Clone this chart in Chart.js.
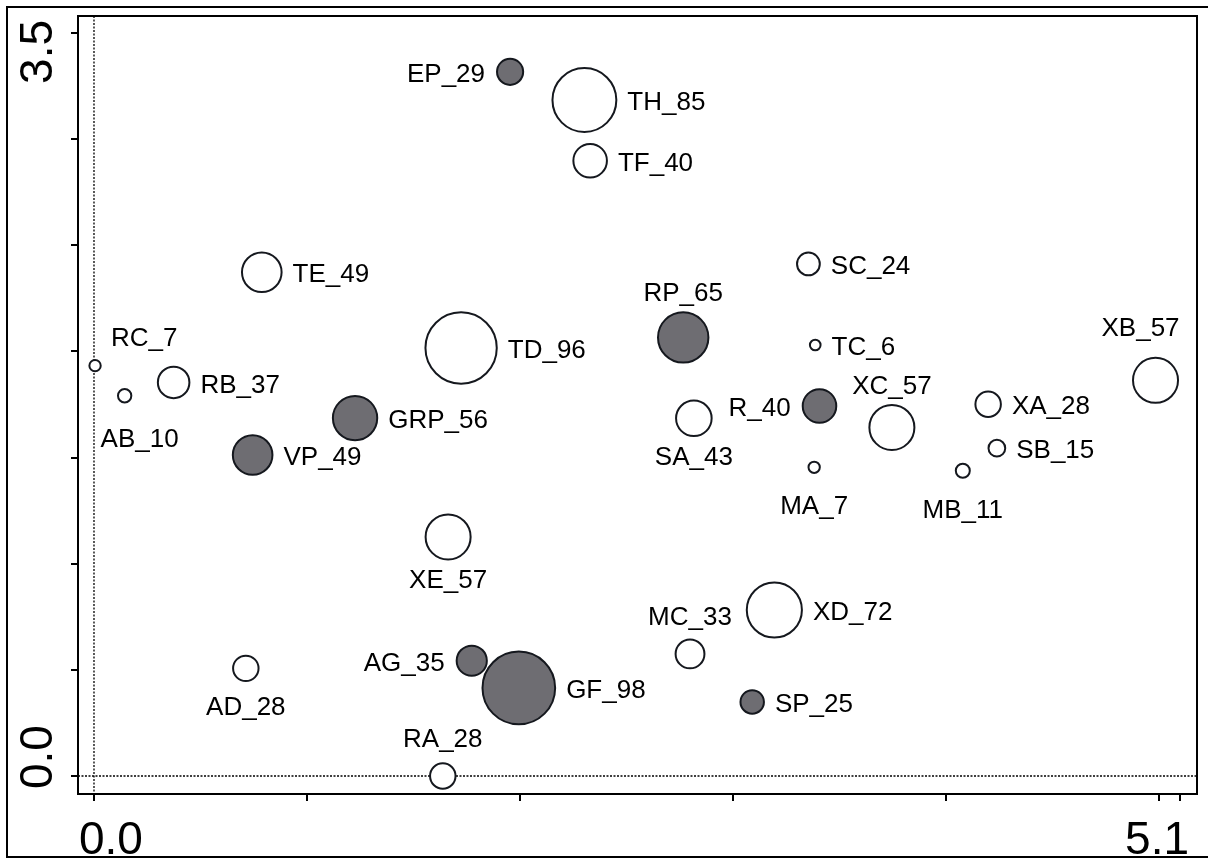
<!DOCTYPE html>
<html>
<head>
<meta charset="utf-8">
<script src="https://cdn.jsdelivr.net/npm/chart.js@4.4.1/dist/chart.umd.min.js"></script>
<style>
  body { margin: 0; background: #fff; }
  canvas { display: block; }
</style>
</head>
<body>
<canvas id="bubbleChart" width="1208" height="859"></canvas>
<script>
// Point data
const names = ['EP', 'TH', 'TF', 'TE', 'SC', 'RP', 'TD', 'TC', 'XB', 'RC', 'AB', 'RB', 'GRP', 'SA', 'R',
    'XC', 'XA', 'SB', 'VP', 'MA', 'MB', 'XE', 'XD', 'MC', 'AG', 'AD', 'GF', 'SP', 'RA'];
const counts = [29, 85, 40, 49, 24, 65, 96, 6, 57, 7, 10, 37, 56, 43, 40,
    57, 28, 15, 49, 7, 11, 57, 72, 33, 35, 28, 98, 25, 28];
const xVals = [1.954, 2.303, 2.330, 0.788, 3.355, 2.767, 1.724, 3.387, 4.985, 0.005, 0.144, 0.374, 1.226, 2.817, 3.407,
    3.747, 4.199, 4.240, 0.745, 3.382, 4.080, 1.663, 3.195, 2.799, 1.774, 0.713, 1.995, 3.091, 1.638];
const yVals = [3.317, 3.184, 2.898, 2.373, 2.412, 2.066, 2.016, 2.030, 1.864, 1.933, 1.791, 1.854, 1.686, 1.685, 1.743,
    1.642, 1.751, 1.544, 1.512, 1.454, 1.438, 1.126, 0.782, 0.575, 0.543, 0.507, 0.415, 0.349, 0.0];
// 1 = filled (grey) point, 0 = open point
const filled = [1, 0, 0, 0, 0, 1, 0, 0, 0, 0, 0, 0, 1, 0, 1,
    0, 0, 0, 1, 0, 0, 0, 0, 0, 1, 0, 1, 1, 0];
// where each label sits relative to its point
const labelSide = ['left', 'right', 'right', 'right', 'right', 'above', 'right', 'right', 'aboveLeft', 'aboveRight',
    'belowRight', 'right', 'right', 'below', 'left', 'above', 'right', 'right', 'right', 'below', 'below', 'below',
    'right', 'above', 'left', 'below', 'right', 'right', 'above'];

// Axes
const xTicks = [0, 1, 2, 3, 4, 5, 5.1];
const yTicks = [0, 0.5, 1, 1.5, 2, 2.5, 3, 3.5];
const xEndLabels = ['0.0', '5.1'];
const yEndLabels = ['0.0', '3.5'];

const FILL_GREY = '#6e6d72';
const INK = '#15181e';
const FONT = '"Liberation Sans", Arial, sans-serif';

const points = names.map((n, i) => ({ x: xVals[i], y: yVals[i], r: 3.3 + 0.337 * counts[i] }));

// zero lines (dotted)
const zeroLines = {
    id: 'zeroLines',
    beforeDatasetsDraw(chart) {
        const { ctx, chartArea, scales } = chart;
        const x0 = scales.x.getPixelForValue(0);
        const y0 = scales.y.getPixelForValue(0);
        ctx.save();
        ctx.strokeStyle = '#000';
        ctx.lineWidth = 1.3;
        ctx.setLineDash([2, 1.5]);
        ctx.beginPath();
        ctx.moveTo(x0, chartArea.top);
        ctx.lineTo(x0, chartArea.bottom);
        ctx.moveTo(chartArea.left, y0);
        ctx.lineTo(chartArea.right, y0);
        ctx.stroke();
        ctx.restore();
    }
};

// point labels, box and axis end labels
const decorations = {
    id: 'decorations',
    afterDatasetsDraw(chart) {
        const { ctx } = chart;
        const meta = chart.getDatasetMeta(0);
        ctx.save();
        ctx.fillStyle = '#000';
        ctx.font = '26px ' + FONT;
        meta.data.forEach((el, i) => {
            const r = el.options.radius + 1;
            const text = `${names[i]}_${counts[i]}`;
            const side = labelSide[i];
            let tx = el.x, ty = el.y;
            if (side === 'right') {
                ctx.textAlign = 'left'; ctx.textBaseline = 'middle';
                tx = el.x + r + 10; ty = el.y + 3;
            } else if (side === 'left') {
                ctx.textAlign = 'right'; ctx.textBaseline = 'middle';
                tx = el.x - r - 11; ty = el.y + 3;
            } else if (side === 'above' || side === 'aboveLeft') {
                ctx.textAlign = 'center'; ctx.textBaseline = 'alphabetic';
                ty = el.y - Math.max(r + 10, 29);
                if (side === 'aboveLeft') { tx = el.x - 15; ty = el.y - r - 21; }
            } else if (side === 'aboveRight') {
                ctx.textAlign = 'left'; ctx.textBaseline = 'alphabetic';
                tx = el.x + 16; ty = el.y - 20;
            } else {
                ctx.textAlign = 'center'; ctx.textBaseline = 'alphabetic';
                ty = el.y + Math.max(r + 9, 28) + 19;
                if (side === 'belowRight') { tx = el.x + 15; ty += 4; }
            }
            ctx.fillText(text, tx, ty);
        });
        ctx.restore();
    },
    afterDraw(chart) {
        const { ctx, chartArea } = chart;
        ctx.save();
        ctx.strokeStyle = '#000';
        ctx.lineWidth = 2;
        ctx.strokeRect(chartArea.left, chartArea.top, chartArea.right - chartArea.left, chartArea.bottom - chartArea.top);
        // figure frame (right edge falls just outside the canvas)
        ctx.strokeRect(7, 7, 1206, 850);

        ctx.fillStyle = '#000';
        ctx.font = '46px ' + FONT;
        ctx.textBaseline = 'alphabetic';
        ctx.textAlign = 'left';
        ctx.fillText(xEndLabels[0], chartArea.left + 1, 854);
        ctx.textAlign = 'right';
        ctx.fillText(xEndLabels[1], chartArea.right - 8, 854);

        ctx.translate(52, 0);
        ctx.rotate(-Math.PI / 2);
        ctx.textAlign = 'right';
        ctx.fillText(yEndLabels[1], -chartArea.top - 4, 0);
        ctx.textAlign = 'left';
        ctx.fillText(yEndLabels[0], -chartArea.bottom + 5, 0);
        ctx.restore();
    }
};

const ctx = document.getElementById('bubbleChart').getContext('2d');
const bubbleChart = new Chart(ctx, {
    type: 'bubble',
    data: {
        datasets: [{
            data: points,
            backgroundColor: filled.map(f => f ? FILL_GREY : '#ffffff'),
            borderColor: INK,
            borderWidth: 2,
            hoverRadius: 0,
            clip: false
        }]
    },
    options: {
        responsive: false,
        animation: false,
        devicePixelRatio: 1,
        layout: { autoPadding: false, padding: { left: 0, top: 16, right: 11, bottom: 0 } },
        plugins: { legend: { display: false }, tooltip: { enabled: false } },
        scales: {
            x: {
                type: 'linear',
                min: -0.0751,
                max: 5.1798,
                afterBuildTicks: (scale) => { scale.ticks = xTicks.map(v => ({ value: v })); },
                afterFit: (scale) => { scale.height = 65; },
                ticks: { display: false },
                grid: { drawOnChartArea: false, drawTicks: true, tickLength: 7, color: '#000', lineWidth: 2 },
                border: { display: false }
            },
            y: {
                type: 'linear',
                min: -0.0848,
                max: 3.58,
                afterBuildTicks: (scale) => { scale.ticks = yTicks.map(v => ({ value: v })); },
                afterFit: (scale) => { scale.width = 78; },
                ticks: { display: false },
                grid: { drawOnChartArea: false, drawTicks: true, tickLength: 7, color: '#000', lineWidth: 2 },
                border: { display: false }
            }
        }
    },
    plugins: [zeroLines, decorations]
});
</script>
</body>
</html>
